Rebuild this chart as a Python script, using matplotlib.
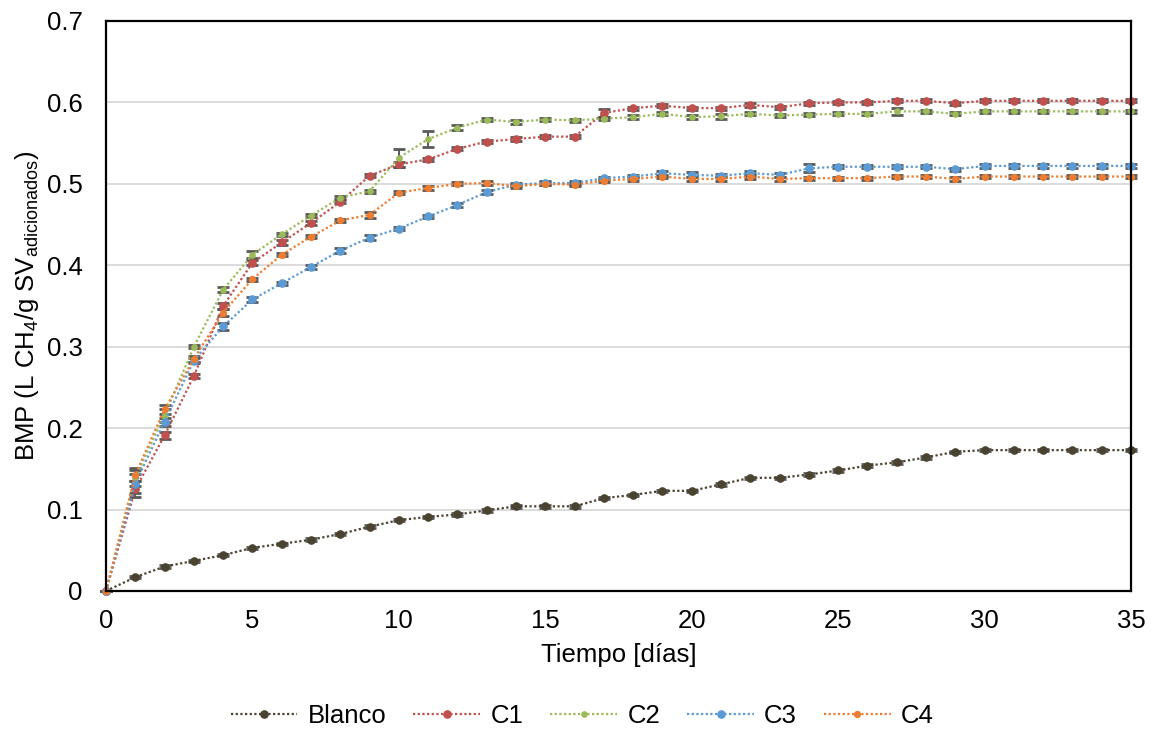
import matplotlib
matplotlib.use("Agg")
import matplotlib.pyplot as plt
from matplotlib.lines import Line2D
import numpy as np

plt.rcParams['font.family'] = ['Liberation Sans', 'DejaVu Sans']
plt.rcParams['mathtext.default'] = 'regular'

# Time axis (days)
dias = list(range(0, 36))

# Cumulative methane yield (L CH4 / g SV added)
blanco = [0, 0.017, 0.030, 0.037, 0.044, 0.053, 0.058, 0.063, 0.070, 0.079,
          0.087, 0.091, 0.094, 0.099, 0.104, 0.104, 0.104, 0.114, 0.118, 0.123,
          0.123, 0.131, 0.139, 0.139, 0.143, 0.148, 0.154, 0.158, 0.164, 0.171,
          0.173, 0.173, 0.173, 0.173, 0.173, 0.173]
c1 = [0, 0.125, 0.191, 0.264, 0.350, 0.403, 0.428, 0.452, 0.478, 0.510,
      0.524, 0.530, 0.543, 0.552, 0.555, 0.558, 0.558, 0.587, 0.593, 0.596,
      0.593, 0.593, 0.597, 0.594, 0.599, 0.600, 0.600, 0.602, 0.602, 0.599,
      0.602, 0.602, 0.602, 0.602, 0.602, 0.602]
c2 = [0, 0.139, 0.216, 0.300, 0.370, 0.413, 0.438, 0.461, 0.483, 0.491,
      0.532, 0.555, 0.569, 0.579, 0.576, 0.579, 0.578, 0.580, 0.582, 0.586,
      0.582, 0.583, 0.586, 0.584, 0.585, 0.586, 0.586, 0.589, 0.589, 0.586,
      0.589, 0.589, 0.589, 0.589, 0.589, 0.589]
c3 = [0, 0.132, 0.208, 0.283, 0.325, 0.358, 0.378, 0.398, 0.418, 0.434,
      0.445, 0.460, 0.474, 0.490, 0.499, 0.501, 0.501, 0.507, 0.509, 0.513,
      0.511, 0.510, 0.513, 0.511, 0.519, 0.521, 0.521, 0.521, 0.521, 0.518,
      0.522, 0.522, 0.522, 0.522, 0.522, 0.522]
c4 = [0, 0.143, 0.223, 0.285, 0.342, 0.383, 0.413, 0.435, 0.455, 0.462,
      0.489, 0.495, 0.500, 0.501, 0.497, 0.500, 0.499, 0.504, 0.506, 0.509,
      0.506, 0.506, 0.509, 0.506, 0.507, 0.507, 0.507, 0.509, 0.509, 0.506,
      0.509, 0.509, 0.509, 0.509, 0.509, 0.509]

# Standard deviations
err_blanco = [0] + [0.0015] * 35
err_c1 = [0, 0.010, 0.004, 0.003, 0.004, 0.003, 0.003, 0.002, 0.002, 0.002,
          0.003, 0.002, 0.002, 0.002, 0.002, 0.002, 0.002, 0.005, 0.002, 0.002,
          0.002, 0.002, 0.002, 0.002, 0.002, 0.002, 0.002, 0.002, 0.002, 0.002,
          0.002, 0.002, 0.002, 0.002, 0.002, 0.002]
err_c2 = [0, 0.010, 0.008, 0.002, 0.003, 0.004, 0.002, 0.002, 0.002, 0.002,
          0.011, 0.010, 0.003, 0.002, 0.002, 0.002, 0.002, 0.002, 0.002, 0.002,
          0.002, 0.003, 0.002, 0.002, 0.002, 0.002, 0.002, 0.004, 0.002, 0.002,
          0.002, 0.002, 0.002, 0.002, 0.002, 0.002]
err_c3 = [0, 0.012, 0.005, 0.003, 0.004, 0.003, 0.002, 0.002, 0.003, 0.003,
          0.002, 0.002, 0.002, 0.002, 0.002, 0.002, 0.002, 0.002, 0.002, 0.003,
          0.003, 0.002, 0.003, 0.002, 0.005, 0.002, 0.002, 0.002, 0.002, 0.002,
          0.002, 0.002, 0.002, 0.002, 0.002, 0.002]
err_c4 = [0, 0.008, 0.006, 0.004, 0.004, 0.002, 0.002, 0.002, 0.002, 0.004,
          0.002, 0.002, 0.002, 0.002, 0.002, 0.002, 0.002, 0.002, 0.002, 0.002,
          0.002, 0.002, 0.003, 0.002, 0.002, 0.002, 0.002, 0.002, 0.002, 0.002,
          0.002, 0.002, 0.002, 0.002, 0.002, 0.002]

nombres = ["Blanco", "C1", "C2", "C3", "C4"]
colores = ["#4a4330", "#c0504d", "#9bbb59", "#5b9bd5", "#ed7d31"]
tam_marcador = [5.2, 5.2, 3.8, 5.2, 4.2]

series = [blanco, c1, c2, c3, c4]
errores = [err_blanco, err_c1, err_c2, err_c3, err_c4]

x_ticks = [0, 5, 10, 15, 20, 25, 30, 35]
y_ticks = [0, 0.1, 0.2, 0.3, 0.4, 0.5, 0.6, 0.7]
y_tick_labels = ["0", "0.1", "0.2", "0.3", "0.4", "0.5", "0.6", "0.7"]

fs = 18.5
estilo_linea = (0, (1.0, 1.1))

fig = plt.figure(figsize=(11.6, 7.31), dpi=100)
ax = fig.add_axes([106 / 1160, 1 - 591 / 731, (1131 - 106) / 1160, (591 - 21) / 731])

ax.set_axisbelow(True)
ax.yaxis.grid(True, color="#d9d9d9", linewidth=1.3)
ax.xaxis.grid(False)

for vals, errs, col, ms in zip(series, errores, colores, tam_marcador):
    ax.errorbar(dias, vals, yerr=errs, color=col, linestyle=estilo_linea,
                linewidth=1.6, marker="o", markersize=ms, markeredgecolor=col,
                ecolor="#595959", elinewidth=1.4, capsize=4.4, capthick=2.0,
                clip_on=False)

ax.set_xlim(0, 35)
ax.set_ylim(0, 0.7)
ax.set_xticks(x_ticks)
ax.set_yticks(y_ticks)
ax.set_yticklabels(y_tick_labels)
ax.tick_params(axis="both", length=0, labelsize=fs)
ax.tick_params(axis="y", pad=17)
ax.tick_params(axis="x", pad=13)

for s in ax.spines.values():
    s.set_color("black")
    s.set_linewidth(1.6)

ax.set_xlabel("Tiempo [días]", fontsize=fs, labelpad=7)
ax.set_ylabel("BMP (L CH$_4$/g SV$_{adicionados}$)", fontsize=fs, labelpad=4)

handles = [Line2D([0], [0], color=c, linestyle=estilo_linea, linewidth=1.6,
                  marker="o", markersize=ms, markeredgecolor=c)
           for c, ms in zip(colores, tam_marcador)]
fig.legend(handles, nombres, loc="center", bbox_to_anchor=(0.502, 0.02),
           ncol=5, frameon=False, fontsize=fs, handlelength=2.6,
           handletextpad=0.4, columnspacing=1.05, numpoints=1)

fig.savefig("out.png", dpi=100)
